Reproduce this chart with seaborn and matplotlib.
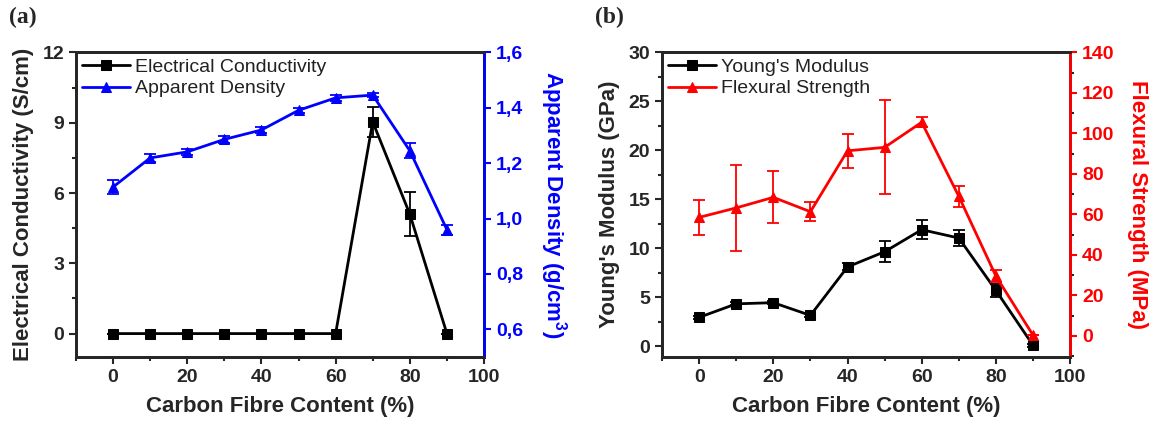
import numpy as np, pandas as pd
import matplotlib
matplotlib.use("Agg")
import matplotlib.pyplot as plt
import seaborn as sns
from matplotlib.ticker import MultipleLocator, FuncFormatter

sns.set_style("ticks")
plt.rcParams["font.family"] = ["Liberation Sans", "DejaVu Sans"]
plt.rcParams["mathtext.fontset"] = "custom"
plt.rcParams["mathtext.bf"] = "Liberation Sans:bold"
plt.rcParams["mathtext.rm"] = "Liberation Sans"

# ---- data ----
content = [0, 10, 20, 30, 40, 50, 60, 70, 80, 90]
cond = [0, 0, 0, 0, 0, 0, 0, 9.04, 5.1, 0]
cond_err = [0, 0, 0, 0, 0, 0, 0, 0.64, 0.95, 0]
dens = [1.114, 1.219, 1.241, 1.286, 1.32, 1.391, 1.436, 1.446, 1.245, 0.96]
dens_err = [0.027, 0.016, 0.01, 0.012, 0.01, 0.008, 0.01, 0.008, 0.028, 0.018]
young = [2.95, 4.33, 4.45, 3.15, 8.1, 9.65, 11.9, 11.05, 5.7, 0.1]
young_err = [0.15, 0.15, 0.15, 0.15, 0.35, 1.07, 0.95, 0.8, 0.65, 0.15]
flex = [58.5, 63.2, 68.4, 61.3, 91.4, 93.1, 105.5, 68.9, 29.5, 0.3]
flex_err = [8.7, 21.3, 12.9, 4.7, 8.5, 23.2, 2.5, 5.3, 3.0, 0]

df = pd.DataFrame({"content": content, "cond": cond, "dens": dens,
                   "young": young, "flex": flex})

BLUE = "#0000FF"; RED = "#FF0000"
LW = 2.0


def panel(ax, ycol, yerr, y2col, y2err, c2, names, ylabel, y2label, pad2):
    ax2 = ax.twinx()
    sns.lineplot(data=df, x="content", y=ycol, ax=ax, color="black", lw=LW,
                 marker="s", markersize=6.5, markeredgecolor="black", label=names[0], legend=False)
    ax.errorbar(content, df[ycol], yerr=yerr, fmt="none", ecolor="black", elinewidth=1.3,
                capsize=4, capthick=1.3)
    sns.lineplot(data=df, x="content", y=y2col, ax=ax2, color=c2, lw=LW,
                 marker="^", markersize=7.5, markeredgecolor=c2, label=names[1], legend=False)
    ax2.errorbar(content, df[y2col], yerr=y2err, fmt="none", ecolor=c2, elinewidth=1.3,
                 capsize=4, capthick=1.3)
    ax.set_xlim(-10, 100)
    ax.xaxis.set_major_locator(MultipleLocator(20))
    ax.xaxis.set_minor_locator(MultipleLocator(10))
    ax.set_xlabel("Carbon Fibre Content (%)", fontsize=16, fontweight="bold", labelpad=7)
    ax.set_ylabel(ylabel, fontsize=16, fontweight="bold", labelpad=6)
    ax2.set_ylabel(y2label, fontsize=16, fontweight="bold", color=c2, rotation=270, labelpad=pad2)
    for a in (ax, ax2):
        for s in a.spines.values():
            s.set_linewidth(2)
        a.tick_params(which="both", direction="out", width=1.5, labelsize=14)
        a.tick_params(which="major", length=5)
        a.tick_params(which="minor", length=3)
    for t in ax.get_xticklabels() + ax.get_yticklabels():
        t.set_fontweight("bold")
    ax2.spines["right"].set_color(c2)
    ax2.tick_params(axis="y", colors=c2)
    for t in ax2.get_yticklabels():
        t.set_fontweight("bold")
    h1, l1 = ax.get_legend_handles_labels()
    h2, l2 = ax2.get_legend_handles_labels()
    leg = ax2.legend(h1 + h2, l1 + l2, loc="upper left", frameon=False, fontsize=14,
                     handlelength=2.5, handletextpad=0.25, borderaxespad=0.1, labelspacing=0.2,
                     borderpad=0.2)
    for t in leg.get_texts():
        t.set_color("#222222")
    return ax2


fig = plt.figure(figsize=(11.51, 4.23), dpi=100)
axa = fig.add_axes([0.066, 0.156, 0.3545, 0.720])
axb = fig.add_axes([0.5752, 0.156, 0.3545, 0.720])

# (a) conductivity / density
a2 = panel(axa, "cond", cond_err, "dens", dens_err, BLUE,
           ["Electrical Conductivity", "Apparent Density"],
           "Electrical Conductivity (S/cm)", r"Apparent Density (g/cm$^\mathbf{3}$)", 33)
axa.set_ylim(-1, 12)
axa.yaxis.set_major_locator(MultipleLocator(3))
axa.yaxis.set_minor_locator(MultipleLocator(1.5))
a2.set_ylim(0.5, 1.6)
a2.yaxis.set_major_locator(MultipleLocator(0.2))
a2.yaxis.set_major_formatter(FuncFormatter(lambda v, p: f"{v:.1f}".replace(".", ",")))
for t in a2.get_yticklabels():
    t.set_fontweight("bold")

# (b) modulus / strength
b2 = panel(axb, "young", young_err, "flex", flex_err, RED,
           ["Young's Modulus", "Flexural Strength"],
           "Young's Modulus (GPa)", "Flexural Strength (MPa)", 24)
axb.set_ylim(-1.1, 30)
axb.yaxis.set_major_locator(MultipleLocator(5))
axb.yaxis.set_minor_locator(MultipleLocator(2.5))
b2.set_ylim(-10.5, 140)
b2.yaxis.set_major_locator(MultipleLocator(20))
b2.yaxis.set_minor_locator(MultipleLocator(10))

for ax, lab in ((axa, "(a)"), (axb, "(b)")):
    ax.text(-0.165, 1.08, lab, transform=ax.transAxes, fontsize=17, fontweight="bold",
            family="Liberation Serif", ha="left", va="bottom")

fig.savefig("out.png", dpi=100)
